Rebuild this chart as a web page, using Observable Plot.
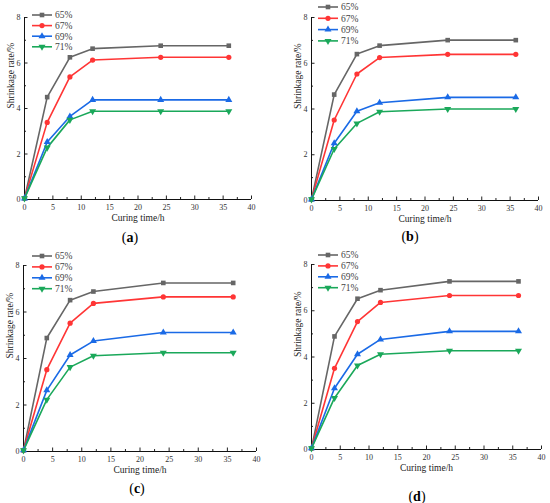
<!DOCTYPE html>
<html><head><meta charset="utf-8">
<script src="https://cdn.jsdelivr.net/npm/d3@7"></script>
<script src="https://cdn.jsdelivr.net/npm/@observablehq/plot@0.6"></script>
<style>
body{margin:0;background:#fff;}
#root{position:relative;width:550px;height:503px;font-family:"Liberation Serif","Times New Roman",serif;overflow:hidden;}
.panel{position:absolute;}
.cap{position:absolute;font-size:14px;color:#000;transform:translate(-50%,-50%);white-space:nowrap;}
.leg{position:absolute;left:0;top:0;overflow:visible;}
</style></head><body><div id="root"></div>
<script>
const times = [0, 4, 8, 12, 24, 36];
const series = ["65%", "67%", "69%", "71%"];
const colors = ["#666666", "#ff3535", "#1a6ae6", "#1aa85a"];
const xMajor = [0, 5, 10, 15, 20, 25, 30, 35, 40];
const xMinor = [2.5, 7.5, 12.5, 17.5, 22.5, 27.5, 32.5, 37.5];
const yMajor = [0, 2, 4, 6, 8];
const yMinor = [1, 3, 5, 7];
const xLabel = "Curing time/h";
const yLabel = "Shrinkage rate/%";
const captions = ["a", "b", "c", "d"];

// panel (a)
const a65 = [0.05, 4.50, 6.25, 6.63, 6.76, 6.76];
const a67 = [0.05, 3.39, 5.39, 6.13, 6.25, 6.25];
const a69 = [0.05, 2.53, 3.65, 4.38, 4.38, 4.38];
const a71 = [0.05, 2.28, 3.50, 3.88, 3.88, 3.88];
// panel (b)
const b65 = [0.05, 4.63, 6.40, 6.77, 7.01, 7.01];
const b67 = [0.05, 3.52, 5.53, 6.25, 6.39, 6.39];
const b69 = [0.05, 2.50, 3.90, 4.27, 4.51, 4.51];
const b71 = [0.05, 2.25, 3.37, 3.88, 4.00, 4.00];
// panel (c)
const c65 = [0.05, 4.88, 6.51, 6.88, 7.25, 7.25];
const c67 = [0.05, 3.52, 5.52, 6.37, 6.65, 6.65];
const c69 = [0.05, 2.63, 4.15, 4.75, 5.12, 5.12];
const c71 = [0.05, 2.23, 3.63, 4.12, 4.25, 4.25];
// panel (d)
const d65 = [0.05, 4.89, 6.52, 6.89, 7.27, 7.27];
const d67 = [0.05, 3.51, 5.53, 6.36, 6.66, 6.66];
const d69 = [0.05, 2.65, 4.12, 4.76, 5.11, 5.11];
const d71 = [0.05, 2.23, 3.63, 4.12, 4.27, 4.27];

const triangleDown = {
  draw(context, size) {
    const y = -Math.sqrt(size / (Math.sqrt(3) * 3));
    context.moveTo(0, -2 * y);
    context.lineTo(-Math.sqrt(3) * y, y);
    context.lineTo(Math.sqrt(3) * y, y);
    context.closePath();
  }
};
const symbols = [d3.symbolSquare, d3.symbolCircle, d3.symbolTriangle, triangleDown];
const R = 2.6;

const layouts = [
  {left: 0,   top: 0,   m: {l: 24, r: 24, t: 17, b: 29}, leg: {x: 32, y: 15, dy: 10.6}, cap: [130, 238]},
  {left: 275, top: 0,   m: {l: 36, r: 12, t: 17, b: 28}, leg: {x: 43, y: 7,  dy: 11.3}, cap: [410, 237]},
  {left: 0,   top: 250, m: {l: 23, r: 19, t: 15, b: 27}, leg: {x: 32, y: 6,  dy: 10.9}, cap: [137, 489]},
  {left: 275, top: 250, m: {l: 36, r: 9,  t: 14, b: 29}, leg: {x: 43, y: 5,  dy: 10.9}, cap: [417, 497]}
];
const panels = [[a65, a67, a69, a71], [b65, b67, b69, b71], [c65, c67, c69, c71], [d65, d67, d69, d71]];

const root = document.getElementById("root");

panels.forEach((vals, p) => {
  const L = layouts[p];
  const data = [];
  series.forEach((s, i) => times.forEach((t, j) => data.push({t, v: vals[i][j], s})));
  const chart = Plot.plot({
    width: 275, height: 228,
    marginLeft: L.m.l, marginRight: L.m.r, marginTop: L.m.t, marginBottom: L.m.b,
    x: {domain: [0, 40]},
    y: {domain: [0, 8]},
    color: {domain: series, range: colors},
    symbol: {domain: series, range: symbols},
    style: {fontFamily: "Liberation Serif, Times New Roman, serif", fontSize: "8px", color: "#333", background: "transparent", overflow: "visible"},
    marks: [
      Plot.axisX({ticks: xMinor, tickSize: -2, tickFormat: () => "", stroke: "#222", label: null}),
      Plot.axisY({ticks: yMinor, tickSize: -2, tickFormat: () => "", stroke: "#222", label: null}),
      Plot.axisX({ticks: xMajor, tickSize: -3.5, tickPadding: 8, stroke: "#222", fill: "#333", label: null, tickFormat: d3.format("d")}),
      Plot.axisY({ticks: yMajor, tickSize: -3.5, tickPadding: 7.5, stroke: "#222", fill: "#333", label: null, tickFormat: d3.format("d")}),
      Plot.ruleX([0], {stroke: "#111", strokeWidth: 1}),
      Plot.ruleY([0], {stroke: "#111", strokeWidth: 1}),
      Plot.text([xLabel], {frameAnchor: "bottom", dy: 21, fontSize: 9.5, fill: "#222"}),
      Plot.text([yLabel], {frameAnchor: "left", dx: -14, rotate: -90, fontSize: 9.5, fill: "#222"}),
      Plot.line(data, {x: "t", y: "v", z: "s", stroke: "s", strokeWidth: 1.6}),
      Plot.dot(data, {x: "t", y: "v", fill: "s", symbol: "s", r: R, stroke: "none"})
    ]
  });
  const wrap = document.createElement("div");
  wrap.className = "panel";
  wrap.style.left = L.left + "px";
  wrap.style.top = L.top + "px";
  wrap.style.width = "275px";
  wrap.style.height = "228px";
  wrap.appendChild(chart);

  // legend
  const leg = d3.create("svg").attr("class", "leg").attr("width", 275).attr("height", 228);
  series.forEach((s, i) => {
    const y = L.leg.y + i * L.leg.dy;
    const g = leg.append("g");
    g.append("line").attr("x1", L.leg.x).attr("x2", L.leg.x + 20).attr("y1", y).attr("y2", y)
      .attr("stroke", colors[i]).attr("stroke-width", 1.6);
    g.append("path").attr("d", d3.symbol().type(symbols[i]).size(Math.PI * R * R)())
      .attr("transform", `translate(${L.leg.x + 10},${y})`).attr("fill", colors[i]);
    g.append("text").attr("x", L.leg.x + 23).attr("y", y).attr("dy", "0.35em")
      .attr("font-size", 9.5).attr("fill", "#444")
      .attr("font-family", "Liberation Serif, Times New Roman, serif").text(s);
  });
  wrap.appendChild(leg.node());
  root.appendChild(wrap);

  const cap = document.createElement("div");
  cap.className = "cap";
  cap.style.left = L.cap[0] + "px";
  cap.style.top = L.cap[1] + "px";
  cap.innerHTML = "(<b>" + captions[p] + "</b>)";
  root.appendChild(cap);
});
</script>
</body></html>
